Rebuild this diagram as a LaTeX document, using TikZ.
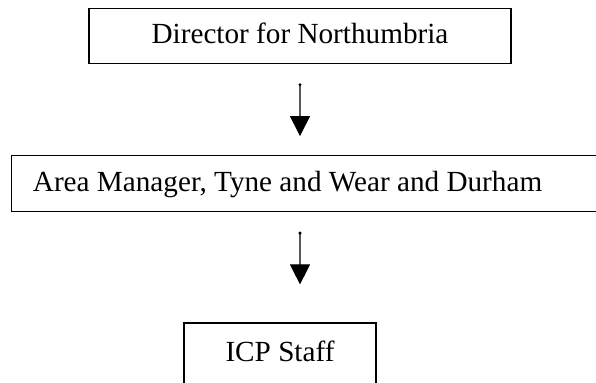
\documentclass[tikz,border=0pt]{standalone}
\usepackage{fontspec}
\setmainfont{Liberation Serif}
\usetikzlibrary{arrows.meta}

\begin{document}
\begin{tikzpicture}[x=0.75pt,y=0.75pt,yscale=-1,xscale=1,
		box/.style={draw,line width=0.9pt,inner sep=0pt,font=\fontsize{21.9pt}{26pt}\selectfont,text height=14.4pt,text depth=3pt},
		down/.style={draw=black!65,line width=0.8pt,{Circle[length=2.2pt,color=black]}-{Triangle[length=15pt,width=15pt,color=black]}}]
		\clip (0,0) rectangle (596,382);
		\node [box,minimum width=316.5pt,minimum height=41.25pt] (dir) at (300,35.8) {Director for Northumbria};
		\node [box,anchor=west,minimum height=42pt,text width=430pt,inner xsep=16pt,align=flush left] (area) at (11,183.7) {Area Manager, Tyne and Wear and Durham};
		\node [box,minimum width=144pt,minimum height=46.5pt] (staff) at (280,354) {ICP Staff};
		\draw [down,shorten <=14.5pt,shorten >=14.25pt] (dir.south) -- (dir.south |- area.north);
		\draw [down,shorten <=14.5pt,shorten >=28.5pt] (dir.south |- area.south) -- (dir.south |- staff.north);
		\end{tikzpicture}
\end{document}
